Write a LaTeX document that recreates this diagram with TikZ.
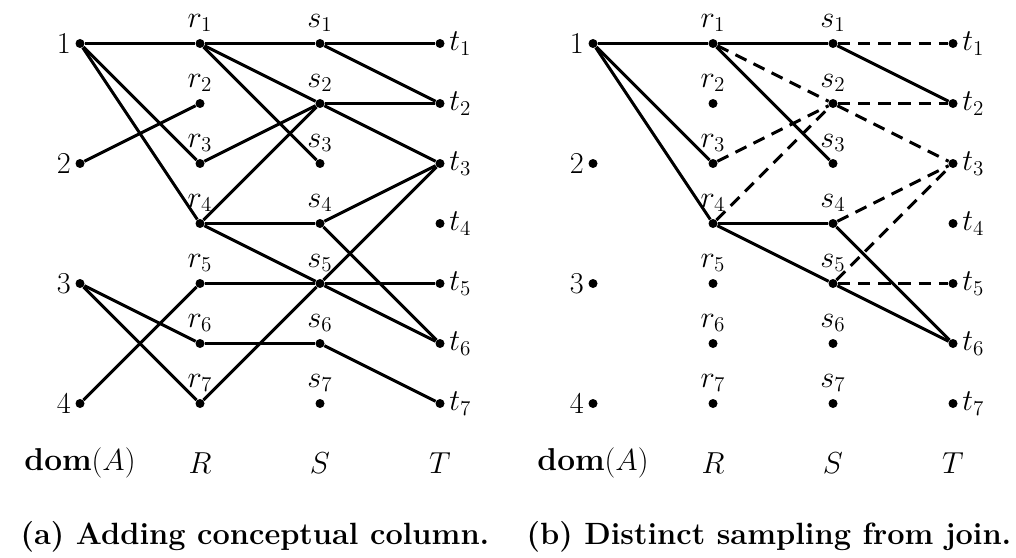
\documentclass[tikz,border=0pt]{standalone}
\usepackage{amsmath}
\usetikzlibrary{positioning}

\begin{document}
\begin{tikzpicture}[
  x=0.02cm, y=-0.02cm,
  every node/.style={font=\fontsize{18}{21}\selectfont},
  dot/.style={circle, fill, inner sep=0pt, minimum size=0.18cm},
  edge/.style={draw, line width=1.7pt, line join=round},
  dashededge/.style={edge, dash pattern=on 7pt off 4.5pt},
  caption/.style={font=\fontsize{17.5}{21}\selectfont\bfseries}
]
\useasboundingbox (0,0) rectangle (1016,557);

% nodes of both panels
\foreach \p/\dx in {a/0, b/513} {
  \foreach \i/\y in {1/43.5, 2/163.5, 3/283.5, 4/403.5}
    \node[dot, label={[label distance=-1pt]left:$\i$}] (\p d\i) at (80+\dx,\y) {};
  \foreach \i in {1,...,7} {
    \node[dot, label={[label distance=0.5pt]above:$r_{\i}$}] (\p r\i) at (200+\dx,60*\i-16.5) {};
    \node[dot, label={[label distance=0.5pt]above:$s_{\i}$}] (\p s\i) at (320+\dx,60*\i-16.5) {};
    \node[dot, label={[label distance=-1pt]right:$t_{\i}$}] (\p t\i) at (440+\dx,60*\i-16.5) {};
  }
  \node (\p dom) at (80+\dx,463) {\textbf{dom}$(A)$};
  \node (\p R) at (200+\dx,463) {$R$};
  \node (\p S) at (320+\dx,463) {$S$};
  \node (\p T) at (440+\dx,463) {$T$};
}
\node[caption] (acap) at (255,537) {(a) Adding conceptual column.};
\node[caption] (bcap) at (769,537) {(b) Distinct sampling from join.};

% (a)
\draw[edge] (ad1) -- (ar1) -- (as1) -- (at1);
\draw[edge] (ad1) -- (ar3) -- (as2) -- (at2);
\draw[edge] (ad1) -- (ar4) -- (as4) -- (at3);
\draw[edge] (ad2) -- (ar2);
\draw[edge] (ar1) -- (as2) -- (at3);
\draw[edge] (ar1) -- (as3);
\draw[edge] (as1) -- (at2);
\draw[edge] (ar4) -- (as2);
\draw[edge] (ar4) -- (as5) -- (at6);
\draw[edge] (as4) -- (at6);
\draw[edge] (ar7) -- (as5) -- (at3);
\draw[edge] (ad4) -- (ar5) -- (as5) -- (at5);
\draw[edge] (ad3) -- (ar6) -- (as6) -- (at7);
\draw[edge] (ad3) -- (ar7);

% (b)
\draw[edge] (bd1) -- (br1) -- (bs1) -- (bt2);
\draw[edge] (bd1) -- (br3);
\draw[edge] (bd1) -- (br4) -- (bs4) -- (bt6);
\draw[edge] (br1) -- (bs3);
\draw[edge] (br4) -- (bs5) -- (bt6);
\draw[dashededge] (bs1) -- (bt1);
\draw[dashededge] (br1) -- (bs2) -- (bt3);
\draw[dashededge] (bs2) -- (bt2);
\draw[dashededge] (br3) -- (bs2);
\draw[dashededge] (br4) -- (bs2);
\draw[dashededge] (bs4) -- (bt3);
\draw[dashededge] (bs5) -- (bt3);
\draw[dashededge] (bs5) -- (bt5);
\end{tikzpicture}
\end{document}
